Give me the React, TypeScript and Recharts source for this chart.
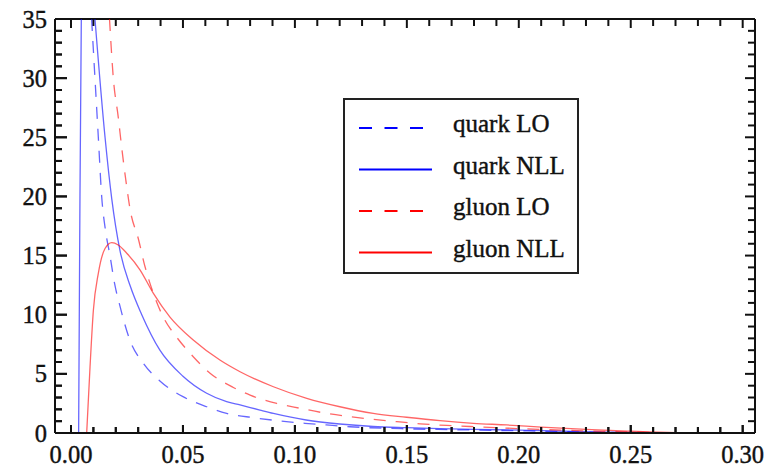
import React from 'react';
import { LineChart, Line, XAxis, YAxis, Legend, ReferenceLine } from 'recharts';

// values (x = momentum fraction, y = distribution)
// curves leave the frame at y = 35; a null breaks quark NLL where it is off the top
const quarkLO = [
  { x: 0.0092, y: 35 }, { x: 0.0107, y: 30 }, { x: 0.0122, y: 25 },
  { x: 0.0137, y: 20 }, { x: 0.0155, y: 17 }, { x: 0.0174, y: 15 }, { x: 0.0195, y: 12.6 },
  { x: 0.0219, y: 10.7 }, { x: 0.0264, y: 7.8 }, { x: 0.0323, y: 5.9 }, { x: 0.0397, y: 4.4 },
  { x: 0.05, y: 3.07 }, { x: 0.0606, y: 2.22 }, { x: 0.0695, y: 1.66 }, { x: 0.0813, y: 1.3 },
  { x: 0.0925, y: 1.04 }, { x: 0.1045, y: 0.82 }, { x: 0.114, y: 0.68 }, { x: 0.1246, y: 0.53 },
  { x: 0.15, y: 0.35 }, { x: 0.17, y: 0.28 }, { x: 0.19, y: 0.22 }, { x: 0.21, y: 0.15 },
  { x: 0.23, y: 0.08 }, { x: 0.25, y: 0.03 }, { x: 0.27, y: 0 }, { x: 0.3, y: 0 },
];

const quarkNLL = [
  { x: 0.0034, y: 0 }, { x: 0.004, y: 20 }, { x: 0.0046, y: 35 }, { x: 0.0075, y: null },
  { x: 0.0107, y: 35 }, { x: 0.0152, y: 25 },
  { x: 0.0182, y: 19.8 }, { x: 0.0219, y: 15.4 }, { x: 0.0265, y: 12.4 }, { x: 0.0316, y: 10 },
  { x: 0.0397, y: 7 }, { x: 0.05, y: 4.8 }, { x: 0.0606, y: 3.36 }, { x: 0.0695, y: 2.65 },
  { x: 0.0755, y: 2.37 }, { x: 0.0844, y: 1.94 }, { x: 0.0904, y: 1.66 }, { x: 0.105, y: 1.1 },
  { x: 0.12, y: 0.76 }, { x: 0.135, y: 0.55 }, { x: 0.15, y: 0.45 }, { x: 0.165, y: 0.37 },
  { x: 0.18, y: 0.3 }, { x: 0.2, y: 0.25 }, { x: 0.22, y: 0.15 }, { x: 0.24, y: 0.08 },
  { x: 0.26, y: 0.03 }, { x: 0.28, y: 0 }, { x: 0.3, y: 0 },
];

const gluonLO = [
  { x: 0.0172, y: 35 }, { x: 0.0189, y: 30 }, { x: 0.0211, y: 26.7 },
  { x: 0.0226, y: 24.2 }, { x: 0.0249, y: 20.8 }, { x: 0.0264, y: 18.9 }, { x: 0.0301, y: 16.4 },
  { x: 0.033, y: 14.1 }, { x: 0.0368, y: 11.8 }, { x: 0.0412, y: 9.8 }, { x: 0.0472, y: 8.1 },
  { x: 0.0546, y: 6.45 }, { x: 0.0621, y: 5.05 }, { x: 0.0725, y: 3.85 }, { x: 0.08, y: 3.2 },
  { x: 0.0919, y: 2.5 }, { x: 0.1023, y: 2.09 }, { x: 0.1142, y: 1.66 }, { x: 0.1246, y: 1.38 },
  { x: 0.135, y: 1.16 }, { x: 0.1455, y: 0.96 }, { x: 0.1559, y: 0.78 }, { x: 0.1678, y: 0.64 },
  { x: 0.1782, y: 0.55 }, { x: 0.19, y: 0.45 }, { x: 0.21, y: 0.3 }, { x: 0.23, y: 0.18 },
  { x: 0.25, y: 0.08 }, { x: 0.27, y: 0.02 }, { x: 0.29, y: 0 }, { x: 0.3, y: 0 },
];

const gluonNLL = [
  { x: 0.007, y: 0 }, { x: 0.0085, y: 5.6 }, { x: 0.01, y: 10.4 }, { x: 0.0122, y: 13.5 },
  { x: 0.0152, y: 15.6 }, { x: 0.0182, y: 16.1 }, { x: 0.0211, y: 15.9 }, { x: 0.0249, y: 15.2 },
  { x: 0.0308, y: 13.8 }, { x: 0.0368, y: 11.8 }, { x: 0.0442, y: 9.8 }, { x: 0.0546, y: 7.86 },
  { x: 0.0665, y: 6.17 }, { x: 0.0755, y: 5.18 }, { x: 0.0904, y: 3.91 }, { x: 0.1053, y: 2.93 },
  { x: 0.1201, y: 2.22 }, { x: 0.135, y: 1.66 }, { x: 0.1499, y: 1.33 }, { x: 0.1648, y: 1.04 },
  { x: 0.1797, y: 0.82 }, { x: 0.1946, y: 0.68 }, { x: 0.21, y: 0.5 }, { x: 0.23, y: 0.3 },
  { x: 0.25, y: 0.15 }, { x: 0.27, y: 0.03 }, { x: 0.28, y: 0 }, { x: 0.3, y: 0 },
];

const seriesNames = ['quark LO', 'quark NLL', 'gluon LO', 'gluon NLL'];

const xTicks = [
  0, 0.01, 0.02, 0.03, 0.04, 0.05, 0.06, 0.07, 0.08, 0.09, 0.1, 0.11, 0.12, 0.13, 0.14, 0.15,
  0.16, 0.17, 0.18, 0.19, 0.2, 0.21, 0.22, 0.23, 0.24, 0.25, 0.26, 0.27, 0.28, 0.29, 0.3,
];
const yTicks = [
  0, 1, 2, 3, 4, 5, 6, 7, 8, 9, 10, 11, 12, 13, 14, 15, 16, 17,
  18, 19, 20, 21, 22, 23, 24, 25, 26, 27, 28, 29, 30, 31, 32, 33, 34, 35,
];

const FONT = '"Liberation Serif", "Times New Roman", serif';
const INK = '#111';
const BLUE = '#0000ff';
const RED = '#ff0000';
const DASH = '12 10';

// frame of the plot area, in chart pixels
const W = 781;
const H = 467;
const FRAME = { left: 55, right: 755, top: 19, bottom: 433 };
const X_DOMAIN = [-0.00715, 0.3055];
const Y_DOMAIN = [0, 35];
// data units per pixel, used to give the inward frame ticks a length in pixels
const X_PER_PX = (X_DOMAIN[1] - X_DOMAIN[0]) / (FRAME.right - FRAME.left);
const Y_PER_PX = (Y_DOMAIN[1] - Y_DOMAIN[0]) / (FRAME.bottom - FRAME.top);

const isMajorX = (v: number) => Math.abs(v * 20 - Math.round(v * 20)) < 1e-6;
const isMajorY = (v: number) => v % 5 === 0;

// bottom / left ticks: inward mark plus label; the along-axis position comes from recharts
const BottomTick = (props: any) => {
  const { x, payload } = props;
  const major = isMajorX(payload.value);
  return (
    <g>
      <line x1={x} y1={FRAME.bottom} x2={x} y2={FRAME.bottom - (major ? 8 : 6)} stroke={INK} strokeWidth={2} />
      {major && (
        <text x={x} y={FRAME.bottom + 30} textAnchor="middle" fontFamily={FONT} fontSize={24.5} fill={INK} stroke={INK} strokeWidth={0.4}>
          {payload.value.toFixed(2)}
        </text>
      )}
    </g>
  );
};

const LeftTick = (props: any) => {
  const { y, payload } = props;
  const major = isMajorY(payload.value);
  return (
    <g>
      <line x1={FRAME.left} y1={y} x2={FRAME.left + (major ? 12 : 7)} y2={y} stroke={INK} strokeWidth={2} />
      {major && (
        <text x={FRAME.left - 8} y={y} dy="0.35em" textAnchor="end" fontFamily={FONT} fontSize={24.5} fill={INK} stroke={INK} strokeWidth={0.4}>
          {payload.value}
        </text>
      )}
    </g>
  );
};

// inward tick segments on all four sides of the frame, in data units
const tickSegments = () => {
  const segs: any[] = [];
  xTicks.forEach((v) => {
    const major = isMajorX(v);
    segs.push({ key: `b${v}`, seg: [{ x: v, y: Y_DOMAIN[0] + (major ? 8 : 6) * Y_PER_PX }, { x: v, y: Y_DOMAIN[0] }] });
    segs.push({ key: `t${v}`, seg: [{ x: v, y: Y_DOMAIN[1] }, { x: v, y: Y_DOMAIN[1] - (major ? 9 : 7) * Y_PER_PX }] });
  });
  yTicks.forEach((v) => {
    const major = isMajorY(v);
    segs.push({ key: `l${v}`, seg: [{ x: X_DOMAIN[0] + (major ? 12 : 7) * X_PER_PX, y: v }, { x: X_DOMAIN[0], y: v }] });
    segs.push({ key: `r${v}`, seg: [{ x: X_DOMAIN[1], y: v }, { x: X_DOMAIN[1] - (major ? 10 : 7) * X_PER_PX, y: v }] });
  });
  return segs;
};

const LegendBox = (props: any) => {
  const items = [...(props.payload || [])].sort(
    (a: any, b: any) => seriesNames.indexOf(a.value) - seriesNames.indexOf(b.value),
  );
  return (
    <div
      style={{
        width: 236,
        height: 176,
        boxSizing: 'border-box',
        border: '2px solid #222',
        background: '#fff',
      }}
    >
      <svg width={232} height={172}>
        {items.map((item: any, i: number) => {
          const ly = 28 + i * 41.5;
          const dashed = !!(item.payload && item.payload.strokeDasharray);
          return (
            <g key={item.value}>
              <line
                x1={14}
                y1={ly}
                x2={dashed ? 78 : 87}
                y2={ly}
                stroke={item.color}
                strokeWidth={2.2}
                strokeDasharray={dashed ? '13 12.5' : undefined}
              />
              <text x={108} y={ly + 4} fontFamily={FONT} fontSize={25} fill={INK} stroke={INK} strokeWidth={0.4}>
                {item.value}
              </text>
            </g>
          );
        })}
      </svg>
    </div>
  );
};

export default function App() {
  return (
    <div style={{ position: 'absolute', left: 0, top: 0, background: '#fff' }}>
      <LineChart
        width={W}
        height={H}
        margin={{ top: FRAME.top, right: W - FRAME.right, bottom: 0, left: 0 }}
      >
        <XAxis
          dataKey="x"
          type="number"
          domain={X_DOMAIN}
          ticks={xTicks}
          interval={0}
          height={H - FRAME.bottom}
          tickLine={false}
          tick={<BottomTick />}
          axisLine={{ stroke: INK, strokeWidth: 2 }}
        />
        <YAxis
          type="number"
          domain={Y_DOMAIN}
          ticks={yTicks}
          interval={0}
          width={FRAME.left}
          tickLine={false}
          tick={<LeftTick />}
          axisLine={{ stroke: INK, strokeWidth: 2 }}
        />
        {/* top and right sides of the frame */}
        <ReferenceLine y={Y_DOMAIN[1]} stroke={INK} strokeWidth={2} ifOverflow="visible" />
        <ReferenceLine x={X_DOMAIN[1]} stroke={INK} strokeWidth={2} ifOverflow="visible" />
        {tickSegments().map((t) => (
          <ReferenceLine key={t.key} segment={t.seg} stroke={INK} strokeWidth={2} ifOverflow="visible" />
        ))}
        <Legend
          layout="vertical"
          align="center"
          verticalAlign="middle"
          content={<LegendBox />}
          wrapperStyle={{ left: 343, top: 98, width: 236, height: 176 }}
        />
        <Line
          data={quarkLO}
          dataKey="y"
          name="quark LO"
          type="monotone"
          stroke={BLUE}
          strokeOpacity={0.6}
          strokeWidth={1.3}
          strokeDasharray={DASH}
          dot={false}
          activeDot={false}
          isAnimationActive={false}
        />
        <Line
          data={quarkNLL}
          dataKey="y"
          name="quark NLL"
          type="monotone"
          stroke={BLUE}
          strokeOpacity={0.6}
          strokeWidth={1.3}
          dot={false}
          activeDot={false}
          isAnimationActive={false}
        />
        <Line
          data={gluonLO}
          dataKey="y"
          name="gluon LO"
          type="monotone"
          stroke={RED}
          strokeOpacity={0.6}
          strokeWidth={1.3}
          strokeDasharray={DASH}
          dot={false}
          activeDot={false}
          isAnimationActive={false}
        />
        <Line
          data={gluonNLL}
          dataKey="y"
          name="gluon NLL"
          type="monotone"
          stroke={RED}
          strokeOpacity={0.6}
          strokeWidth={1.3}
          dot={false}
          activeDot={false}
          isAnimationActive={false}
        />
      </LineChart>
    </div>
  );
}
